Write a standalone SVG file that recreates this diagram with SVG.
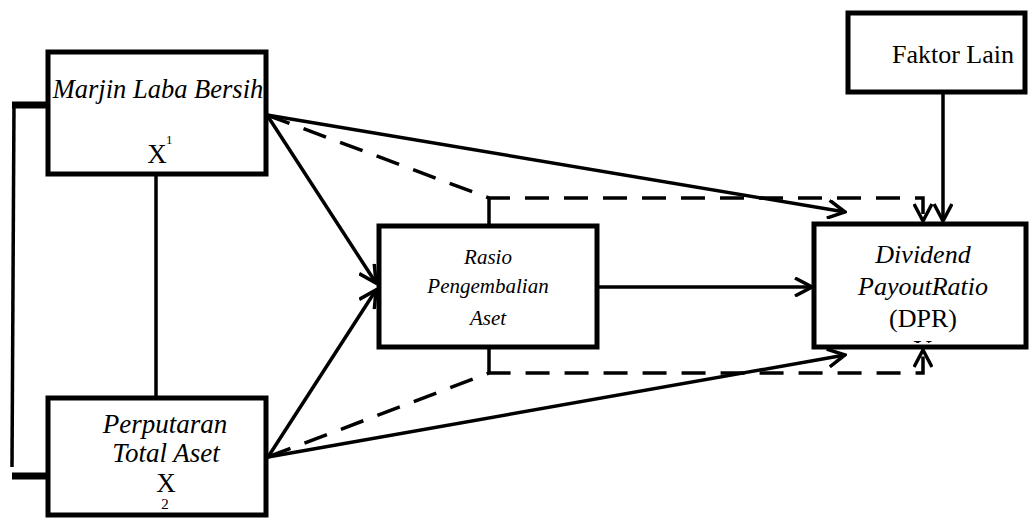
<svg xmlns="http://www.w3.org/2000/svg" width="1029" height="520" viewBox="0 0 1029 520">
<style>
.box{fill:#fff;stroke:#000;stroke-width:5}
.t{fill:#000;text-anchor:middle}
.i{font-style:italic}
.c{fill:none;stroke:#000;stroke-width:3.5}
.d{fill:none;stroke:#000;stroke-width:3.5;stroke-dasharray:24 15}
</style>
<defs>
<marker id="ah" viewBox="0 0 20 20" refX="18" refY="10" markerWidth="20" markerHeight="20" markerUnits="userSpaceOnUse" orient="auto">
<path d="M1,1 L18,10 L1,19" fill="none" stroke="#000" stroke-width="3.5"/>
</marker>
<clipPath id="dprclip"><rect x="814" y="224" width="212" height="119"/></clipPath>
</defs>
<rect width="1029" height="520" fill="#fff"/>
<g id="connectors">
<path class="c" d="M14,102 L12,467"/>
<path d="M12,105 H52" stroke="#000" stroke-width="7"/>
<path d="M12,476 H60" stroke="#000" stroke-width="7"/>
<path class="c" d="M156,174 V397" stroke-width="4"/>
<path class="c" d="M267,115 L376,283" marker-end="url(#ah)"/>
<path class="c" d="M268,457 L376,290" marker-end="url(#ah)"/>
<path class="c" d="M267,115 L845,212" marker-end="url(#ah)"/>
<path class="c" d="M268,457 L845,355" marker-end="url(#ah)"/>
<path class="d" d="M267,115 L489,198 L923,198 L923,221" marker-end="url(#ah)"/>
<path class="d" d="M268,457 L489,373 L923,373 L923,350" marker-end="url(#ah)"/>
<path class="c" d="M489,198 V226"/>
<path class="c" d="M489,347 V373"/>
<path class="c" d="M598,287 H812" marker-end="url(#ah)"/>
<path class="c" d="M943,92 V221" marker-end="url(#ah)"/>
</g>
<g font-family="Liberation Serif, Tinos, DejaVu Serif, serif">
<g id="x1">
<rect class="box" x="48" y="52" width="218" height="122"/>
<text class="t i" x="158" y="98" font-size="26.5">Marjin Laba Bersih</text>
<text class="t" x="157" y="163" font-size="27">X</text>
<text x="166" y="144" font-size="13" fill="#000">1</text>
</g>
<g id="x2">
<rect class="box" x="48" y="398" width="218" height="117"/>
<text class="t i" x="165" y="433" font-size="27">Perputaran</text>
<text class="t i" x="166" y="462" font-size="27">Total Aset</text>
<text class="t" x="166" y="492" font-size="27">X</text>
<text class="t" x="165" y="509" font-size="15">2</text>
</g>
<g id="rasio">
<rect class="box" x="379" y="226" width="218" height="121"/>
<text class="t i" x="488" y="264" font-size="21">Rasio</text>
<text class="t i" x="488" y="293" font-size="21">Pengembalian</text>
<text class="t i" x="488" y="325" font-size="21">Aset</text>
</g>
<g id="faktor">
<rect class="box" x="848" y="13" width="177" height="79"/>
<text class="t" x="953" y="63" font-size="26">Faktor Lain</text>
</g>
<g id="dpr">
<rect class="box" x="814" y="224" width="212" height="123"/>
<text class="t i" x="923" y="263" font-size="26">Dividend</text>
<text class="t i" x="923" y="295" font-size="26">PayoutRatio</text>
<text class="t" x="923" y="327" font-size="26">(DPR)</text>
<text class="t" x="923" y="358" font-size="26" clip-path="url(#dprclip)">Y</text>
</g>
</g>
</svg>
